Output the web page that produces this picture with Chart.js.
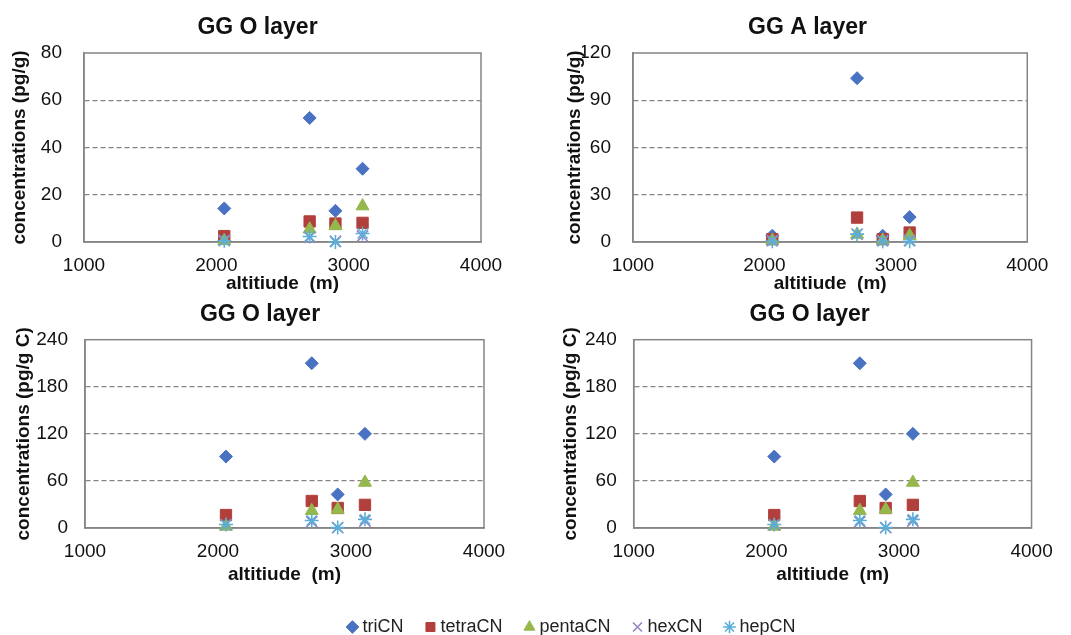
<!DOCTYPE html>
<html>
<head>
<meta charset="utf-8">
<script src="https://cdn.jsdelivr.net/npm/chart.js@4.4.1/dist/chart.umd.min.js"></script>
<style>
  html, body { margin: 0; padding: 0; background: #fff; }
  body { width: 1071px; height: 635px; position: relative; overflow: hidden; }
  canvas { position: absolute; }
</style>
</head>
<body>
<canvas id="c1" width="515" height="295" style="left:0px;top:0px"></canvas>
<canvas id="c2" width="506" height="295" style="left:555px;top:0px"></canvas>
<canvas id="c3" width="520" height="291" style="left:0px;top:295px"></canvas>
<canvas id="c4" width="510" height="291" style="left:555px;top:295px"></canvas>
<canvas id="c5" width="1071" height="120" style="left:0px;top:560px"></canvas>
<script>
// ---------- data ----------
const altitudes = [2060, 2705, 2900, 3105];
const xTickValues = [1000, 2000, 3000, 4000];
const seriesNames = ['triCN', 'tetraCN', 'pentaCN', 'hexCN', 'hepCN'];

const panelTitles = ['GG O layer', 'GG A layer', 'GG O layer', 'GG O layer'];
const yAxisTitles = ['concentrations (pg/g)', 'concentrations (pg/g)', 'concentrations (pg/g C)', 'concentrations (pg/g C)'];
const yMax = [80, 120, 240, 240];
const yStep = [20, 30, 60, 60];

// GG O layer (pg/g)
const oTri   = [14.2, 52.5, 13.2, 31.0];
const oTetra = [2.5, 8.7, 7.8, 8.1];
const oPenta = [0.5, 5.4, 6.8, 15.2];
const oHex   = [0.6, 2.0, 0.3, 2.5];
const oHep   = [0.5, 2.3, 0.0, 3.6];

// GG A layer (pg/g)
const aTri   = [4.0, 104.0, 4.0, 15.8];
const aTetra = [1.8, 15.5, 1.8, 6.0];
const aPenta = [1.0, 4.8, 1.0, 4.0];
const aHex   = [1.0, 5.0, 1.0, 1.0];
const aHep   = [0.5, 5.0, 0.5, 0.5];

// GG O layer (pg/g C) - panel 3
const cTri   = [91.0, 210.0, 42.8, 120.0];
const cTetra = [16.5, 34.4, 25.5, 29.5];
const cPenta = [2.0, 22.0, 23.5, 58.0];
const cHex   = [4.0, 8.0, 0.5, 9.0];
const cHep   = [4.5, 9.5, 0.5, 11.0];

// GG O layer (pg/g C) - panel 4 (same as panel 3 in the figure)
const dTri   = [91.0, 210.0, 42.8, 120.0];
const dTetra = [16.5, 34.4, 25.5, 29.5];
const dPenta = [2.0, 22.0, 23.5, 58.0];
const dHex   = [4.0, 8.0, 0.5, 9.0];
const dHep   = [4.5, 9.5, 0.5, 11.0];

const panelSeries = [
  [oTri, oTetra, oPenta, oHex, oHep],
  [aTri, aTetra, aPenta, aHex, aHep],
  [cTri, cTetra, cPenta, cHex, cHep],
  [dTri, dTetra, dPenta, dHex, dHep]
];

// ---------- styles ----------
const FONT = '"Liberation Sans", Arial, Helvetica, sans-serif';
Chart.defaults.font.family = FONT;
Chart.defaults.color = '#111';

const seriesStyles = [
  { pointStyle: 'rectRot',  color: '#4A72C2', radius: 6.5, bw: 1 },
  { pointStyle: 'rect',     color: '#B13F3C', radius: 8,   bw: 1 },
  { pointStyle: 'triangle', color: '#95B84C', radius: 7.5, bw: 1 },
  { pointStyle: 'crossRot', color: '#9585C2', radius: 8,   bw: 1.6 },
  { pointStyle: 'star',     color: '#5BAED8', radius: 7,   bw: 1.6 }
];
const GRID = '#858585';

const framePlugin = {
  id: 'frame',
  beforeDatasetsDraw(chart) {
    const a = chart.chartArea;
    const ctx = chart.ctx;
    ctx.save();
    ctx.strokeStyle = GRID;
    ctx.lineWidth = 1.5;
    ctx.strokeRect(a.left, a.top, a.right - a.left, a.bottom - a.top);
    ctx.restore();
  }
};

// layout per panel (canvas-relative)
const layouts = [
  { padL: 34,   yW: 50,   yPad: 22, yTitlePad: -25.4, padR: 34, xH: 53, xPad: 12.6, tTop: 13.5, tBot: 11.9 },
  { padL: 27,   yW: 51,   yPad: 22, yTitlePad: -18.4, padR: 28, xH: 53, xPad: 12.6, tTop: 13.5, tBot: 11.9 },
  { padL: 36,   yW: 49,   yPad: 17, yTitlePad: -24,   padR: 36, xH: 58, xPad: 12.3, tTop: 6.2,  tBot: 10.9 },
  { padL: 29.4, yW: 49.3, yPad: 17, yTitlePad: -24.8, padR: 30, xH: 58, xPad: 12.3, tTop: 6.2,  tBot: 10.9 }
];

function makePanel(id, p) {
  const L = layouts[p];
  const max = yMax[p];
  const datasets = seriesNames.map((name, s) => {
    const st = seriesStyles[s];
    return {
      label: name,
      data: altitudes.map((x, i) => ({ x: x, y: panelSeries[p][s][i] })),
      pointStyle: st.pointStyle,
      pointRadius: st.radius,
      pointHoverRadius: st.radius,
      backgroundColor: st.color,
      borderColor: st.color,
      pointBorderWidth: st.bw,
      borderWidth: st.bw,
      showLine: false,
      clip: false,
      order: 5 - s
    };
  });
  new Chart(document.getElementById(id), {
    type: 'scatter',
    data: { datasets },
    plugins: [framePlugin],
    options: {
      responsive: false,
      animation: false,
      layout: { padding: { left: L.padL, right: L.padR, top: 0, bottom: 0 } },
      plugins: {
        legend: { display: false },
        tooltip: { enabled: false },
        title: {
          display: true,
          text: panelTitles[p],
          font: { size: 23, weight: 'bold' },
          color: '#111',
          padding: { top: L.tTop, bottom: L.tBot }
        }
      },
      scales: {
        x: {
          type: 'linear',
          min: 1000, max: 4000,
          afterBuildTicks(scale) { scale.ticks = xTickValues.map(v => ({ value: v })); },
          afterFit(scale) { scale.height = L.xH; },
          ticks: {
            font: { size: 19 },
            color: '#111',
            padding: L.xPad,
            maxRotation: 0,
            callback: v => String(v)
          },
          grid: { display: false, drawTicks: false },
          border: { display: true, color: GRID, width: 1.5 },
          title: {
            display: true,
            text: 'altitiude  (m)',
            font: { size: 19, weight: 'bold' },
            color: '#111',
            padding: { top: 0, bottom: 0 }
          }
        },
        y: {
          type: 'linear',
          min: 0, max: max,
          ticks: {
            stepSize: yStep[p],
            font: { size: 19 },
            color: '#111',
            padding: L.yPad,
            callback: v => String(v)
          },
          afterFit(scale) { scale.width = L.yW; },
          grid: {
            drawTicks: false,
            lineWidth: 1.3,
            color: c => (c.tick && (c.tick.value === 0 || c.tick.value === max)) ? 'rgba(0,0,0,0)' : GRID
          },
          border: { display: true, color: GRID, width: 1.5, dash: [5, 3] },
          title: {
            display: true,
            text: yAxisTitles[p],
            font: { size: 19, weight: 'bold' },
            color: '#111',
            padding: { top: L.yTitlePad, bottom: 0 }
          }
        }
      }
    }
  });
}

makePanel('c1', 0);
makePanel('c2', 1);
makePanel('c3', 2);
makePanel('c4', 3);

// legend-only chart
new Chart(document.getElementById('c5'), {
  type: 'scatter',
  data: {
    datasets: seriesNames.map((name, s) => ({
      label: name,
      data: [],
      pointStyle: seriesStyles[s].pointStyle,
      backgroundColor: seriesStyles[s].color,
      borderColor: seriesStyles[s].color,
      borderWidth: seriesStyles[s].bw
    }))
  },
  options: {
    responsive: false,
    animation: false,
    layout: { padding: { left: 76, right: 0, top: 32, bottom: 0 } },
    scales: { x: { display: false }, y: { display: false } },
    plugins: {
      tooltip: { enabled: false },
      legend: {
        display: true,
        position: 'top',
        labels: {
          usePointStyle: true,
          boxWidth: 2,
          boxHeight: 9,
          padding: 26,
          font: { size: 18 },
          color: '#222'
        }
      }
    }
  }
});
</script>
</body>
</html>
